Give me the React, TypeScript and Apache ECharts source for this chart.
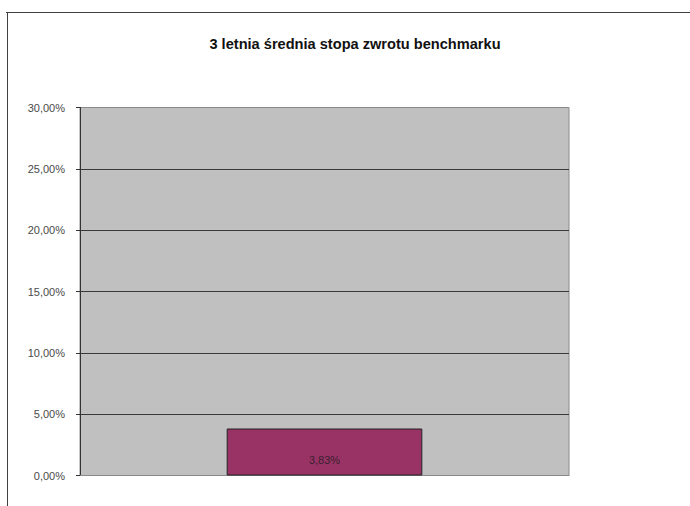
import React, { useEffect, useRef } from "react";
import * as echarts from "echarts";

const categories: string[] = [""];
const values: number[] = [3.83];
const titleText = "3 letnia średnia stopa zwrotu benchmarku";
const yMin = 0;
const yMax = 30;
const yInterval = 5;

const fmt = (v: number) => v.toFixed(2).replace(".", ",") + "%";

export default function App() {
  const ref = useRef<HTMLDivElement>(null);
  useEffect(() => {
    if (!ref.current) return;
    const chart = echarts.init(ref.current, undefined, { renderer: "svg" });
    chart.setOption({
      animation: false,
      backgroundColor: "#ffffff",
      graphic: [
        { type: "line", shape: { x1: 6, y1: 12.5, x2: 690, y2: 12.5 }, style: { stroke: "#404040", lineWidth: 1 } },
        { type: "line", shape: { x1: 7.5, y1: 12, x2: 7.5, y2: 506 }, style: { stroke: "#404040", lineWidth: 1 } },
        {
          type: "text",
          x: 355,
          y: 44,
          style: {
            text: titleText,
            align: "center",
            verticalAlign: "middle",
            fontFamily: "Liberation Sans, Arial, sans-serif",
            fontWeight: "bold",
            fontSize: 14.6,
            fill: "#111",
          },
        },
      ],
      grid: {
        left: 80,
        top: 107.5,
        right: 121,
        bottom: 30.5,
        show: true,
        backgroundColor: "#C0C0C0",
        borderColor: "#8a8a8a",
        borderWidth: 1,
      },
      xAxis: {
        type: "category",
        data: categories,
        axisLine: { show: true, lineStyle: { color: "#8a8a8a" } },
        axisTick: { show: false },
        axisLabel: { show: false },
      },
      yAxis: {
        type: "value",
        min: yMin,
        max: yMax,
        interval: yInterval,
        axisLine: { show: true, lineStyle: { color: "#333", width: 1 } },
        axisTick: { show: true, length: 4, lineStyle: { color: "#333" } },
        axisLabel: {
          formatter: (v: number) => fmt(v),
          fontFamily: "Liberation Sans, Arial, sans-serif",
          fontSize: 11,
          color: "#4a4a4a",
          margin: 15,
        },
        splitLine: {
          show: true,
          showMinLine: false,
          showMaxLine: false,
          lineStyle: { color: "#3a3a3a", width: 1 },
        },
      },
      series: [
        {
          type: "bar",
          data: values,
          barWidth: "40%",
          itemStyle: { color: "#993366", borderColor: "#222", borderWidth: 1 },
          label: {
            show: true,
            position: "insideBottom",
            distance: 10,
            formatter: (p: any) => fmt(p.value),
            fontFamily: "Liberation Sans, Arial, sans-serif",
            fontSize: 11,
            color: "#3a2030",
          },
        },
      ],
    });
    return () => chart.dispose();
  }, []);
  return (
    <div
      ref={ref}
      style={{ position: "fixed", left: 0, top: 0, width: 690, height: 506 }}
    />
  );
}
